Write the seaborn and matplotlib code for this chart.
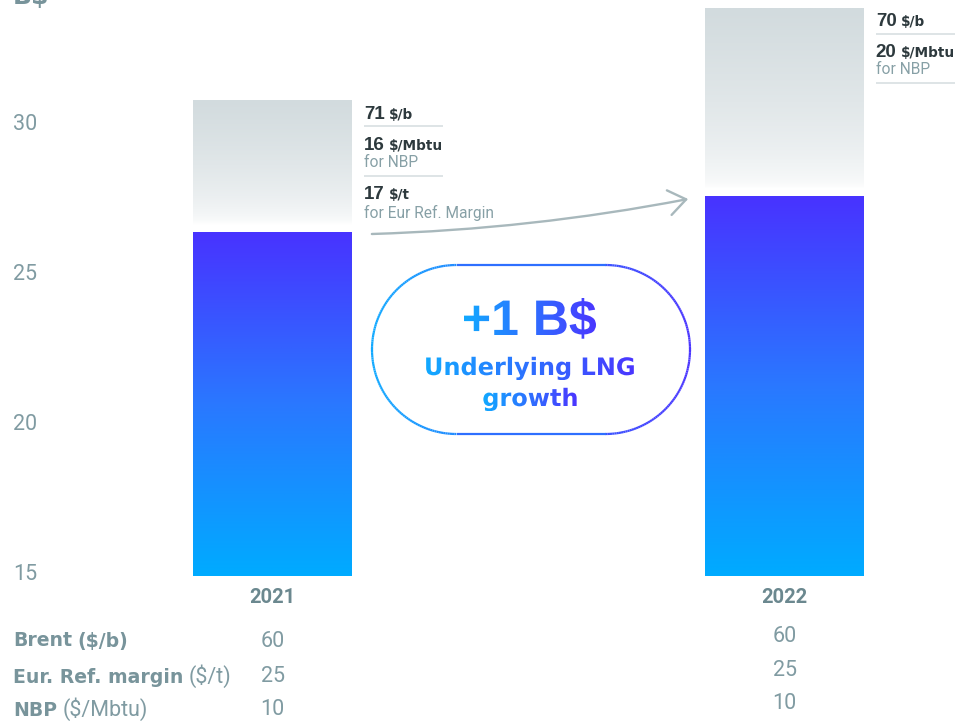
import numpy as np
import pandas as pd
import matplotlib
matplotlib.use("Agg")
import matplotlib.pyplot as plt
import seaborn as sns
from matplotlib.colors import LinearSegmentedColormap
from matplotlib.patches import FancyArrowPatch, PathPatch
from matplotlib.collections import LineCollection
from matplotlib.textpath import TextPath
from matplotlib.font_manager import FontProperties
from matplotlib.transforms import Affine2D
from matplotlib.offsetbox import TextArea, HPacker, AnnotationBbox

# ---- data -------------------------------------------------------------
years = ["2021", "2022"]
underlying_lng = [26.3, 27.5]      # B$, underlying result
scenario_high = [30.7, 33.8]       # B$, top of the high-price band
brent_high = [71, 70]              # $/b
nbp_high = [16, 20]                # $/Mbtu
margin_high = [17, None]           # $/t

row_names = ["Brent", "Eur. Ref. margin", "NBP"]
row_units = ["($/b)", "($/t)", "($/Mbtu)"]
row_unit_bold = [True, False, False]
assumptions_2021 = [60, 25, 10]
assumptions_2022 = [60, 25, 10]
y_ticks = [15, 20, 25, 30]

# ---- style ------------------------------------------------------------
sns.set_theme(style="white")
plt.rcParams["font.family"] = ["Roboto", "DejaVu Sans"]

GREY = "#809ba2"
GREY_BOLD = "#78949b"
GREY_YEAR = "#6b888f"
DARK = "#2d393d"
SMALL = "#87a0a6"
SEP = "#d4dcdf"

W, H = 964, 721
fig = plt.figure(figsize=(W / 100, H / 100), dpi=100)
fig.patch.set_facecolor("white")

BASE_PX = 576
ax = fig.add_axes([0, (H - BASE_PX) / H, 1, BASE_PX / H])
Y0 = 30 - (BASE_PX - 122) / 30
Y1 = 30 + 122 / 30

df = pd.DataFrame({"year": years, "underlying": underlying_lng, "high": scenario_high})
sns.barplot(data=df, x="year", y="high", width=0.31, errorbar=None, ax=ax, color="white")
high_bars = list(ax.patches)
sns.barplot(data=df, x="year", y="underlying", width=0.31, errorbar=None, ax=ax, color="white")
low_bars = list(ax.patches[len(high_bars):])

lng_cmap = LinearSegmentedColormap.from_list("lng", ["#00abff", "#2a78ff", "#4833ff"])
band_cmap = LinearSegmentedColormap.from_list("band", ["#ffffff", "#d2dbde"])
accent_cmap = LinearSegmentedColormap.from_list("accent", ["#12a9ff", "#4a36ff"])

for hb, lb in zip(high_bars, low_bars):
    x0, w = lb.get_x(), lb.get_width()
    low, high = lb.get_height(), hb.get_height()
    ax.imshow(np.linspace(0, 1, 400)[:, None], extent=[x0, x0 + w, Y0, low],
              origin="lower", cmap=lng_cmap, aspect="auto",
              interpolation="bilinear", zorder=2)
    yy = np.linspace(low, high, 400)
    fade = low + 0.3
    t = np.clip((yy - fade) / (high - fade), 0, 1) ** 0.55
    ax.imshow(t[:, None], extent=[x0, x0 + w, low, high], origin="lower",
              cmap=band_cmap, vmin=0, vmax=1, aspect="auto",
              interpolation="bilinear", zorder=1)
    for p in (hb, lb):
        p.set_facecolor("none")
        p.set_edgecolor("none")

ax.set_xlim(-272.5 / 512, (W - 272.5) / 512)
ax.set_ylim(Y0, Y1)
ax.set_xlabel("")
ax.set_ylabel("")
sns.despine(ax=ax, left=True, bottom=True)
ax.grid(False)

ax.set_yticks(y_ticks)
ax.set_yticklabels([str(v) for v in y_ticks], fontsize=15.5, fontweight="normal",
                   color=GREY, family="Roboto")
ax.tick_params(axis="y", length=0, pad=-13 * 0.72)
for lab in ax.get_yticklabels():
    lab.set_horizontalalignment("left")

ax.set_xticks(range(len(years)))
ax.set_xticklabels(years, fontsize=14.5, fontweight="bold", color=GREY_YEAR,
                   family="Roboto")
ax.tick_params(axis="x", length=0, pad=8.5)

# ---- overlay in pixel units for annotations ---------------------------
ov = fig.add_axes([0, 0, 1, 1], zorder=3)
ov.set_xlim(0, W)
ov.set_ylim(H, 0)
ov.axis("off")
ov.patch.set_alpha(0)


def to_px(x, y):
    dx, dy = ax.transData.transform((x, y))
    return dx, H - dy


def rich(parts, xy, align=(0, 0.5), sep=3):
    areas = [TextArea(s, textprops=props) for s, props in parts]
    box = HPacker(children=areas, align="baseline", pad=0, sep=sep)
    ab = AnnotationBbox(box, xy, xycoords="data", frameon=False, pad=0,
                        box_alignment=align, annotation_clip=False)
    ov.add_artist(ab)


big_num = dict(family="Liberation Sans", weight="bold", size=13.5, color=DARK)
big_unit = dict(family="DejaVu Sans", weight="bold", size=9.8, color=DARK)
small_txt = dict(family="Roboto", size=11.2, color=SMALL)

for i, (hb, lb) in enumerate(zip(high_bars, low_bars)):
    right_px, top_px = to_px(hb.get_x() + hb.get_width(), hb.get_height())
    xl = right_px + 12
    blocks = [(f"{brent_high[i]}", "$/b", None),
              (f"{nbp_high[i]}", "$/Mbtu", "for NBP")]
    if margin_high[i] is not None:
        blocks.append((f"{margin_high[i]}", "$/t", "for Eur Ref. Margin"))
    c = top_px + 10
    for k, (num, unit, note) in enumerate(blocks):
        rich([(num, big_num), (unit, big_unit)], (xl, c + 3.5))
        end = c
        if note:
            ov.text(xl, c + 21, note, ha="left", va="center", **small_txt)
            end = c + 18.5
        if k < 2:
            ov.plot([xl, xl + 79], [end + 15.5, end + 15.5], color=SEP, lw=1.1,
                    solid_capstyle="butt")
        c = end + 31

# growth arrow between the underlying tops
ax_r, y_a = to_px(low_bars[0].get_x() + low_bars[0].get_width(), low_bars[0].get_height())
ax_l, y_b = to_px(low_bars[1].get_x(), low_bars[1].get_height())
arrow = FancyArrowPatch((ax_r + 20, y_a + 1), (ax_l - 17, y_b + 2),
                        arrowstyle="->,head_length=0.62,head_width=0.45",
                        mutation_scale=20, connectionstyle="arc3,rad=0.04",
                        color="#a8b8bc", lw=1.7, shrinkA=0, shrinkB=0)
ov.add_patch(arrow)

# pill with gradient outline
pl, pr, ptop, pbot = 372, 690, 265, 434
r = (pbot - ptop) / 2
cy = (ptop + pbot) / 2
a0, a1 = pl + r, pr - r
th = np.linspace(-np.pi / 2, np.pi / 2, 120)
pts = np.vstack([
    np.c_[a1 + r * np.cos(th), cy + r * np.sin(th)],
    np.c_[a0 - r * np.cos(th), cy - r * np.sin(th)],
])
pts = np.vstack([pts, pts[:1]])
segs = np.stack([pts[:-1], pts[1:]], axis=1)
mid_x = segs[:, :, 0].mean(axis=1)
lc = LineCollection(segs, colors=accent_cmap((mid_x - pl) / (pr - pl)), lw=1.6)
ov.add_collection(lc)


def gradient_text(s, family, em_px, cx, baseline):
    prop = FontProperties(family=family, weight="bold")
    tp = TextPath((0, 0), s, size=em_px, prop=prop)
    ext = tp.get_extents()
    tr = Affine2D().translate(-(ext.x0 + ext.x1) / 2, 0).scale(1, -1).translate(cx, baseline)
    path = tr.transform_path(tp)
    patch = PathPatch(path, facecolor="none", edgecolor="none", transform=ov.transData)
    ov.add_patch(patch)
    b = path.get_extents()
    im = ov.imshow(np.linspace(0, 1, 256)[None, :], cmap=accent_cmap,
                   extent=[b.x0, b.x1, b.y1, b.y0], aspect="auto",
                   interpolation="bilinear", zorder=5)
    im.set_clip_path(patch)


growth = underlying_lng[1] - underlying_lng[0]
gradient_text(f"+{growth:.0f} B$", "Liberation Sans", 50, 530, 335)
gradient_text("Underlying LNG", "DejaVu Sans", 24, 530, 375)
gradient_text("growth", "DejaVu Sans", 24, 530, 406)

# unit label for the y axis
ov.text(13, 4, "B$", ha="left", va="baseline", family="DejaVu Sans",
        weight="bold", size=18, color=GREY_BOLD, clip_on=False)

# price assumptions table
label_bold = dict(family="DejaVu Sans", weight="bold", size=13.6, color=GREY_BOLD)
label_reg = dict(family="Roboto", weight="normal", size=15.5, color=GREY)
row_y_2021 = [639, 674, 707]
row_y_2022 = [634, 668, 701]
for name, unit, ub, ya in zip(row_names, row_units, row_unit_bold, row_y_2021):
    rich([(name, label_bold), (unit, label_bold if ub else label_reg)], (13, ya + 2), sep=4)

x21 = to_px(0, Y0)[0]
x22 = to_px(1, Y0)[0]
for v, ya in zip(assumptions_2021, row_y_2021):
    ov.text(x21, ya + 2.5, str(v), ha="center", va="center", family="Roboto",
            weight="normal", size=15.5, color=GREY)
for v, ya in zip(assumptions_2022, row_y_2022):
    ov.text(x22, ya + 2.5, str(v), ha="center", va="center", family="Roboto",
            weight="normal", size=15.5, color=GREY)

ov.set_xlim(0, W)
ov.set_ylim(H, 0)

fig.savefig("out.png", dpi=100, facecolor="white")
